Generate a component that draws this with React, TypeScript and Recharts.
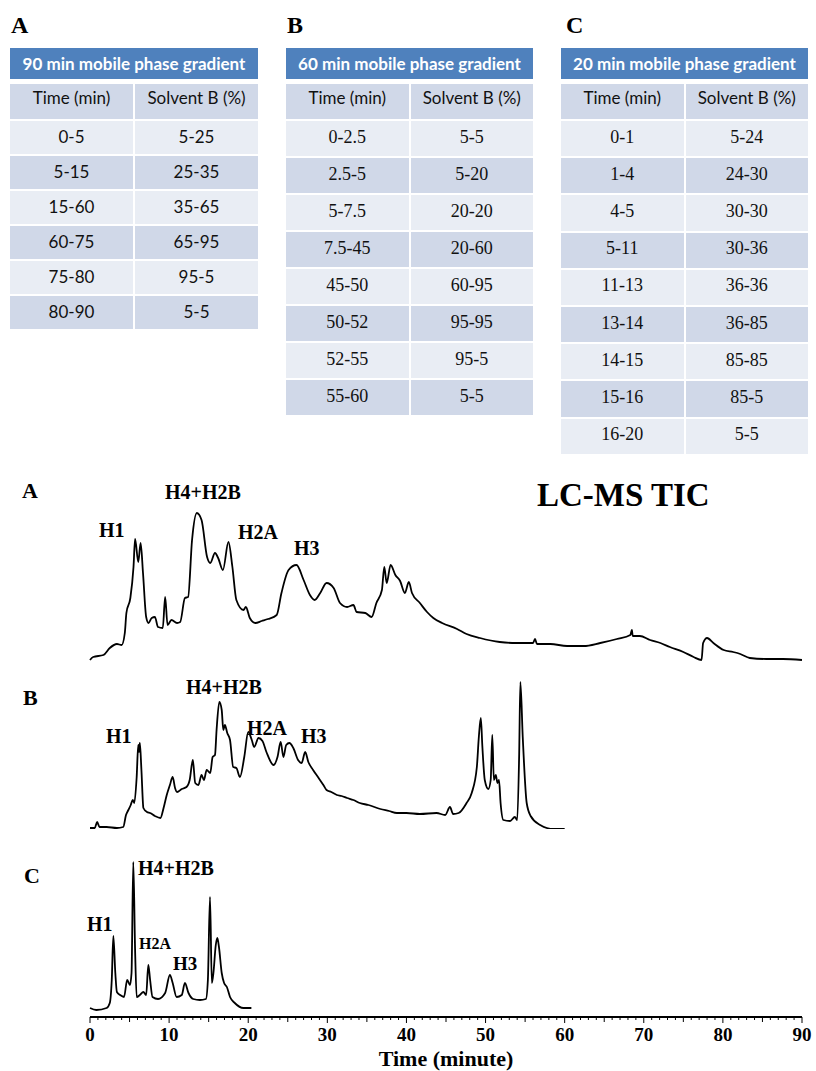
import React from 'react';
import { LineChart, Line, XAxis, YAxis } from 'recharts';

// ---- gradient tables ----
const gradientA_time = ['0-5', '5-15', '15-60', '60-75', '75-80', '80-90'];
const gradientA_solventB = ['5-25', '25-35', '35-65', '65-95', '95-5', '5-5'];

const gradientB_time = ['0-2.5', '2.5-5', '5-7.5', '7.5-45', '45-50', '50-52', '52-55', '55-60'];
const gradientB_solventB = ['5-5', '5-20', '20-20', '20-60', '60-95', '95-95', '95-5', '5-5'];

const gradientC_time = ['0-1', '1-4', '4-5', '5-11', '11-13', '13-14', '14-15', '15-16', '16-20'];
const gradientC_solventB = ['5-24', '24-30', '30-30', '30-36', '36-36', '36-85', '85-85', '85-5', '5-5'];

// ---- TIC traces: [time (min), relative intensity] ----
const ticA: [number, number][] = [
  [0, 1], [0.4, 4], [1.7, 6], [2.5, 13], [3.4, 17], [4.0, 16], [4.4, 28], [4.6, 48], [5.1, 63], [5.5, 94],
  [5.7, 122], [6.1, 99], [6.4, 118], [6.7, 88], [7.1, 44], [7.4, 38], [7.8, 43], [8.2, 44], [8.6, 34], [9.2, 33],
  [9.5, 64], [9.8, 36], [10.3, 41], [11.0, 38], [11.4, 39], [12.0, 63], [12.4, 64], [12.9, 121], [13.5, 148],
  [14.1, 141], [14.8, 104], [15.2, 98], [15.8, 108], [16.2, 103], [16.8, 91], [17.5, 119], [18.0, 94], [18.5, 61],
  [19.4, 51], [19.7, 54], [20.2, 43], [20.9, 38], [21.7, 40], [22.5, 42], [23.6, 46], [24.2, 68], [25.1, 91],
  [26.1, 96], [27.0, 81], [27.8, 66], [28.4, 61], [29.1, 68], [29.9, 78], [30.8, 73], [31.6, 58], [32.5, 54],
  [33.3, 56], [33.7, 49], [34.8, 48], [35.6, 44], [36.2, 58], [36.9, 71], [37.2, 94], [37.5, 78], [38.0, 96],
  [38.6, 86], [39.2, 80], [39.8, 68], [40.3, 79], [40.7, 68], [41.7, 58], [42.6, 49], [43.4, 43], [44.5, 38],
  [46.4, 32], [47.6, 27], [49.3, 23], [51.8, 19], [53.9, 18], [56.0, 18], [56.25, 22], [56.5, 17], [58.2, 17],
  [60.3, 15], [62.4, 15], [64.5, 18], [66.6, 22], [68.3, 26], [68.5, 31], [68.6, 25], [69.5, 25], [70.8, 21],
  [72.1, 18], [73.3, 14], [75.0, 9], [76.3, 4], [77.3, 1], [77.5, 18], [78.0, 23], [78.8, 18], [80.1, 11],
  [81.3, 9], [82.2, 7], [83.4, 3], [85.5, 2], [87.6, 2], [90, 1],
];

const ticB: [number, number][] = [
  [0, 1], [0.6, 1], [0.9, 7], [1.2, 2], [2.1, 2], [3.4, 1], [4.2, 2], [4.55, 14], [4.85, 19], [5.15, 24],
  [5.4, 29], [5.6, 26], [5.9, 52], [6.1, 84], [6.2, 77], [6.3, 86], [6.5, 59], [6.75, 21], [7.2, 17], [7.6, 16],
  [8.2, 13], [8.9, 11], [9.3, 21], [9.7, 34], [10.1, 44], [10.45, 52], [10.75, 41], [11.0, 37], [11.6, 40],
  [12.2, 42], [12.6, 49], [13.0, 69], [13.3, 46], [13.7, 44], [14.1, 54], [14.4, 49], [14.75, 59], [15.2, 56],
  [15.5, 72], [15.8, 74], [16.0, 99], [16.35, 127], [16.65, 119], [16.85, 99], [17.05, 104], [17.35, 96],
  [17.7, 89], [18.1, 62], [18.5, 61], [18.95, 52], [19.5, 72], [20.0, 97], [20.45, 89], [20.75, 82], [21.3, 91],
  [21.8, 88], [22.3, 77], [23.2, 64], [23.7, 72], [24.1, 87], [24.45, 72], [24.8, 84], [25.2, 86], [25.7, 81],
  [26.3, 69], [26.75, 66], [27.2, 77], [27.6, 67], [28.2, 59], [28.9, 51], [29.5, 44], [29.9, 39], [30.5, 37],
  [31.2, 34], [31.8, 33], [32.5, 31], [33.3, 29], [34.1, 26], [35.2, 24], [36.7, 20], [37.8, 18], [38.8, 16],
  [40.0, 16], [41.7, 15], [43.8, 16], [44.9, 14], [45.5, 22], [45.9, 15], [46.6, 16], [47.6, 26], [48.25, 36],
  [48.9, 62], [49.15, 92], [49.4, 111], [49.6, 82], [49.9, 49], [50.35, 40], [50.65, 49], [50.85, 94],
  [51.05, 49], [51.3, 54], [51.5, 46], [51.7, 49], [51.9, 26], [52.25, 9], [53.1, 8], [53.7, 12], [54.0, 9],
  [54.25, 75], [54.4, 147], [54.7, 92], [55.2, 26], [55.7, 13], [56.9, 4], [58.6, 0], [60.0, 0],
];

const ticC: [number, number][] = [
  [0, 2], [0.8, 0], [2.1, 2], [2.5, 7], [2.75, 30], [2.95, 74], [3.2, 37], [3.4, 18], [3.8, 15], [4.3, 13],
  [4.7, 30], [5.05, 25], [5.25, 37], [5.47, 148], [5.7, 60], [5.9, 13], [6.3, 15], [6.75, 18], [7.1, 15],
  [7.37, 45], [7.6, 30], [7.9, 13], [8.6, 11], [9.5, 17], [10.1, 35], [10.45, 27], [10.95, 13], [11.6, 15],
  [12.0, 27], [12.45, 17], [13.05, 11], [13.9, 10], [14.65, 11], [14.9, 30], [15.17, 113], [15.4, 27],
  [15.6, 37], [15.9, 65], [16.1, 72], [16.3, 63], [16.65, 37], [16.95, 27], [17.3, 23], [17.7, 13], [18.3, 7],
  [19.4, 2], [20.4, 2],
];

const timeTickLabels = [0, 10, 20, 30, 40, 50, 60, 70, 80, 90];
const minuteTicks = Array.from({ length: 91 }, (_, i) => i);

const SERIF = '"Liberation Serif", "Times New Roman", serif';
const SANS = 'Lato, "Open Sans", sans-serif';

const toRows = (pts: [number, number][]) => pts.map(([time, tic]) => ({ time, tic }));

// ---- tables ----
interface TableProps {
  left: number;
  width: number;
  title: string;
  times: string[];
  solvents: string[];
  rowH: number;
  serifBody: boolean;
}

const GradientTable: React.FC<TableProps> = ({ left, width, title, times, solvents, rowH, serifBody }) => {
  const cell = (txt: string, bg: string, h: number, font: string, size: number, pb: number) => (
    <div
      style={{
        background: bg,
        height: h,
        display: 'flex',
        alignItems: 'center',
        justifyContent: 'center',
        fontFamily: font,
        fontSize: size,
        color: '#111',
        paddingBottom: pb,
        boxSizing: 'border-box',
      }}
    >
      {txt}
    </div>
  );
  const bodyFont = serifBody ? SERIF : SANS;
  const bodySize = serifBody ? 18 : 17;
  return (
    <div style={{ position: 'absolute', left, top: 48, width }}>
      <div
        style={{
          height: 31,
          background: '#4f81bd',
          color: '#fff',
          fontFamily: SANS,
          fontWeight: 700,
          fontSize: 17,
          display: 'flex',
          alignItems: 'center',
          justifyContent: 'center',
        }}
      >
        {title}
      </div>
      <div style={{ display: 'grid', gridTemplateColumns: '1fr 1fr', columnGap: 2, rowGap: 2, marginTop: 5 }}>
        {cell('Time (min)', '#d0d8e8', 35, SANS, 17, 9)}
        {cell('Solvent B (%)', '#d0d8e8', 35, SANS, 17, 9)}
        {times.map((t, i) => (
          <React.Fragment key={t + i}>
            {cell(t, i % 2 === 0 ? '#e9edf4' : '#d0d8e8', rowH, bodyFont, bodySize, 3)}
            {cell(solvents[i], i % 2 === 0 ? '#e9edf4' : '#d0d8e8', rowH, bodyFont, bodySize, 3)}
          </React.Fragment>
        ))}
      </div>
    </div>
  );
};

// ---- axis tick ----
const MinuteTick = (props: any) => {
  const { x, y, payload } = props;
  const v = payload.value as number;
  const len = v % 10 === 0 ? 6 : v % 5 === 0 ? 5 : 3;
  return (
    <g>
      <line x1={x} x2={x} y1={y} y2={y + len} stroke="#000" strokeWidth={1} />
      {timeTickLabels.includes(v) && (
        <text x={x} y={y + 24} textAnchor="middle" fontFamily={SERIF} fontWeight={700} fontSize={19} fill="#000">
          {v}
        </text>
      )}
    </g>
  );
};

const TimeLabel = (props: any) => {
  const { viewBox } = props;
  return (
    <text
      x={viewBox.x + viewBox.width / 2}
      y={viewBox.y + 49}
      textAnchor="middle"
      fontFamily={SERIF}
      fontWeight={700}
      fontSize={22}
      fill="#000"
    >
      Time (minute)
    </text>
  );
};

const MARGIN_X = { left: 90, right: 14 };

const Trace: React.FC<{ rows: { time: number; tic: number }[]; top: number; marginTop: number; withAxis?: boolean }> = ({
  rows,
  top,
  marginTop,
  withAxis,
}) => (
  <div style={{ position: 'absolute', left: 0, top }}>
    <LineChart
      width={816}
      height={withAxis ? marginTop + 157 + 54 : marginTop + 150}
      data={rows}
      margin={{ top: marginTop, bottom: 0, ...MARGIN_X }}
    >
      <XAxis
        dataKey="time"
        type="number"
        domain={[0, 90]}
        hide={!withAxis}
        ticks={minuteTicks}
        interval={0}
        tick={<MinuteTick />}
        tickLine={false}
        tickSize={0}
        tickMargin={0}
        height={54}
        axisLine={{ stroke: '#000', strokeWidth: 2 }}
        label={<TimeLabel />}
      />
      <YAxis type="number" domain={[0, 150]} hide padding={withAxis ? { top: 0, bottom: 7 } : undefined} />
      <Line
        type="monotoneX"
        dataKey="tic"
        stroke="#000"
        strokeWidth={1.8}
        dot={false}
        isAnimationActive={false}
      />
    </LineChart>
  </div>
);

// ---- annotations ----
const annotations = [
  { text: 'A', x: 22, y: 498, size: 22 },
  { text: 'LC-MS TIC', x: 537, y: 506, size: 33 },
  { text: 'H1', x: 99, y: 537, size: 20 },
  { text: 'H4+H2B', x: 165, y: 499, size: 20 },
  { text: 'H2A', x: 238, y: 539, size: 20 },
  { text: 'H3', x: 294, y: 555, size: 20 },
  { text: 'B', x: 23, y: 705, size: 22 },
  { text: 'H1', x: 106, y: 743, size: 20 },
  { text: 'H4+H2B', x: 186, y: 694, size: 20 },
  { text: 'H2A', x: 247, y: 735, size: 20 },
  { text: 'H3', x: 301, y: 743, size: 20 },
  { text: 'C', x: 24, y: 883, size: 22 },
  { text: 'H1', x: 87, y: 931, size: 20 },
  { text: 'H4+H2B', x: 138, y: 875, size: 20 },
  { text: 'H2A', x: 139, y: 949, size: 16 },
  { text: 'H3', x: 173, y: 970, size: 19 },
];

export default function App() {
  return (
    <div style={{ position: 'absolute', left: 0, top: 0, width: 816, height: 1071, background: '#fff', overflow: 'hidden' }}>
      {/* panel letters for the tables */}
      <div style={{ position: 'absolute', left: 11, top: 12, fontFamily: SERIF, fontWeight: 700, fontSize: 24 }}>A</div>
      <div style={{ position: 'absolute', left: 287, top: 12, fontFamily: SERIF, fontWeight: 700, fontSize: 24 }}>B</div>
      <div style={{ position: 'absolute', left: 566, top: 12, fontFamily: SERIF, fontWeight: 700, fontSize: 24 }}>C</div>

      <GradientTable left={10} width={248} title="90 min mobile phase gradient" times={gradientA_time} solvents={gradientA_solventB} rowH={33} serifBody={false} />
      <GradientTable left={286} width={247} title="60 min mobile phase gradient" times={gradientB_time} solvents={gradientB_solventB} rowH={35} serifBody />
      <GradientTable left={561} width={247} title="20 min mobile phase gradient" times={gradientC_time} solvents={gradientC_solventB} rowH={35.2} serifBody />

      <Trace rows={toRows(ticA)} top={500} marginTop={11} />
      <Trace rows={toRows(ticB)} top={670} marginTop={9} />
      <Trace rows={toRows(ticC)} top={850} marginTop={10} withAxis />

      <svg width={816} height={1071} style={{ position: 'absolute', left: 0, top: 0, pointerEvents: 'none' }}>
        {annotations.map((a, i) => (
          <text key={i} x={a.x} y={a.y} fontFamily={SERIF} fontWeight={700} fontSize={a.size} fill="#000">
            {a.text}
          </text>
        ))}
      </svg>
    </div>
  );
}
